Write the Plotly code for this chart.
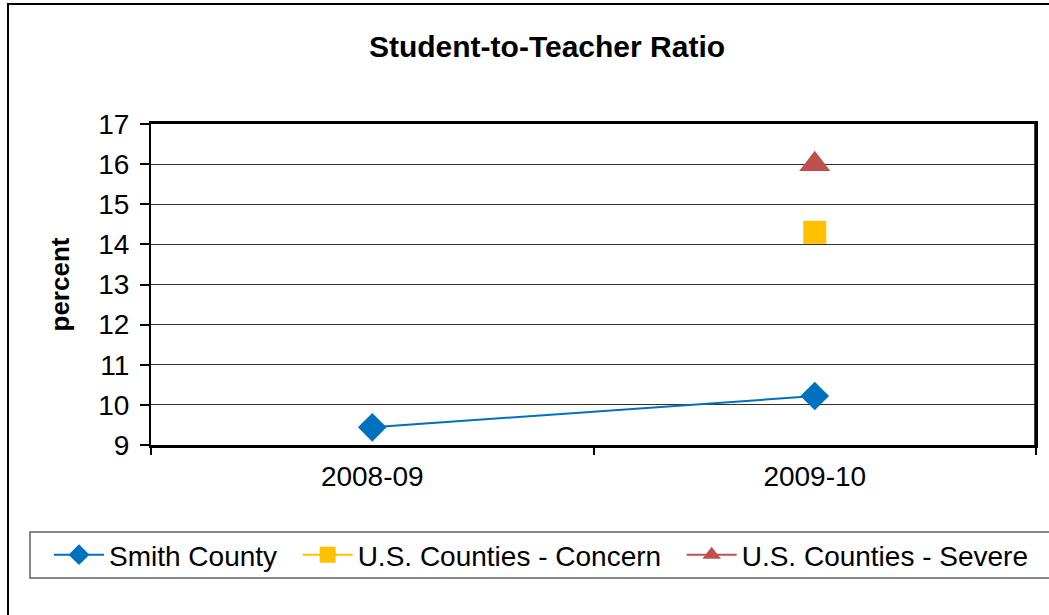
import plotly.graph_objects as go

categories = ["2008-09", "2009-10"]
smith_county = [9.44, 10.22]
concern = [None, 14.3]
severe = [None, 16.0]
y_ticks = [9, 10, 11, 12, 13, 14, 15, 16, 17]
series_names = ["Smith County", "U.S. Counties - Concern", "U.S. Counties - Severe"]

FONT = "Liberation Sans, Arial, sans-serif"
NB = "\u00a0"

fig = go.Figure()
fig.add_trace(go.Scatter(
    x=categories, y=smith_county, name=series_names[0] + NB * 2, mode="lines+markers",
    line=dict(color="#0070C0", width=2),
    marker=dict(symbol="diamond", size=22, color="#0070C0"),
))
fig.add_trace(go.Scatter(
    x=categories, y=concern, name=series_names[1] + NB * 2, mode="lines+markers",
    line=dict(color="#FFC000", width=2),
    marker=dict(symbol="square", size=23, color="#FFC000"),
))
fig.add_trace(go.Scatter(
    x=categories, y=severe, name=series_names[2], mode="lines+markers",
    line=dict(color="#C0504D", width=2),
    marker=dict(symbol="triangle-up", size=27, color="#C0504D"),
))

W, H = 1049, 615
L, R, T, B = 151, 13, 124, 170
pw, ph = W - L - R, H - T - B

def px(xpix):
    return (xpix - L) / pw

def py(ypix):
    return (H - B - ypix) / ph

fig.update_layout(
    width=W, height=H,
    margin=dict(l=L, r=R, t=T, b=B),
    paper_bgcolor="white", plot_bgcolor="white",
    font=dict(family=FONT, size=28, color="black"),
    title=dict(text="Student-to-Teacher Ratio", x=547 / W, xanchor="center",
               y=1 - 46 / H, yanchor="middle", yref="container",
               font=dict(family=FONT, size=30, weight="bold", color="black")),
    showlegend=True,
    legend=dict(orientation="h", x=px(49), xanchor="left", y=py(555), yanchor="middle",
                font=dict(family=FONT, size=28, color="black"),
                bgcolor="rgba(0,0,0,0)", borderwidth=0, itemwidth=50,
                traceorder="normal"),
    shapes=[
        dict(type="rect", xref="paper", yref="paper",
             x0=px(8), x1=px(1100), y0=py(700), y1=py(4),
             line=dict(color="black", width=2), fillcolor="rgba(0,0,0,0)", layer="below"),
        dict(type="rect", xref="paper", yref="paper",
             x0=px(30), x1=px(1100), y0=py(578), y1=py(532),
             line=dict(color="#606060", width=1.5), fillcolor="rgba(0,0,0,0)"),
        dict(type="line", xref="paper", yref="paper",
             x0=1, x1=1, y0=0, y1=1, line=dict(color="black", width=3.5)),
    ],
)

fig.update_xaxes(
    type="category", categoryorder="array", categoryarray=categories,
    range=[-0.5, 1.5], tickson="boundaries", ticks="outside", ticklen=7,
    tickcolor="black", tickwidth=1.5,
    showline=True, linecolor="black", linewidth=2.5, mirror=True,
    showgrid=False, ticklabelstandoff=5,
    tickfont=dict(family=FONT, size=28, color="black"),
)
fig.update_yaxes(
    range=[9, 17], tickvals=y_ticks, ticks="outside", ticklen=9,
    tickcolor="black", tickwidth=1.5,
    showline=True, linecolor="black", linewidth=2, mirror=True,
    showgrid=True, gridcolor="#303030", gridwidth=1, zeroline=False,
    ticklabelstandoff=5,
    tickfont=dict(family=FONT, size=28, color="black"),
    title=dict(text="percent", standoff=21,
               font=dict(family=FONT, size=26, weight="bold", color="black")),
)

fig.write_html("out.html", config={"displayModeBar": False},
               post_script="document.body.style.margin='0px';")
